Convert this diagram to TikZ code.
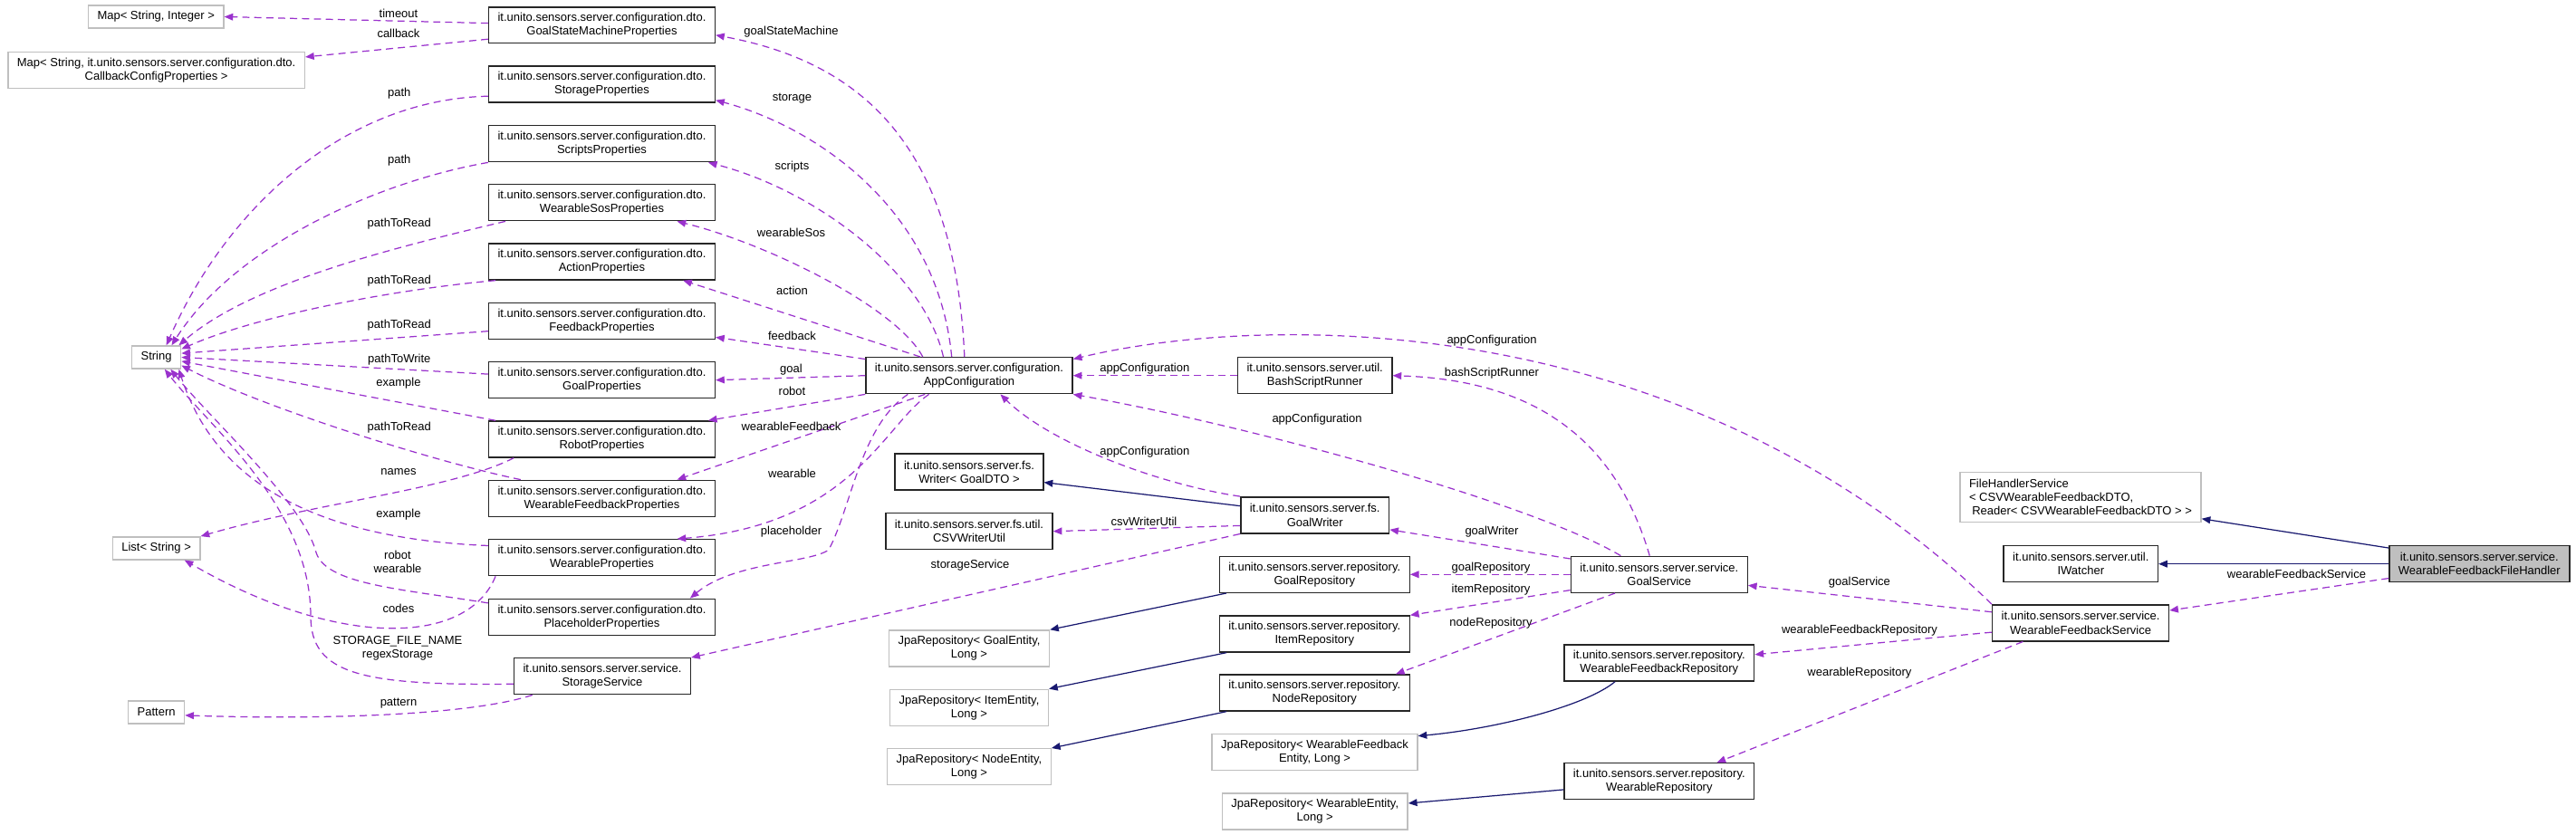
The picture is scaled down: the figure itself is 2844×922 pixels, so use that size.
\documentclass[tikz,border=0pt]{standalone}
\usepackage{fontspec}
\setmainfont{Liberation Sans}
\usepackage{xcolor}
\usepackage{tikz}
\usetikzlibrary{arrows.meta}
\definecolor{inhblue}{HTML}{191970}
\definecolor{usepurple}{HTML}{9A32CD}
\definecolor{extgray}{HTML}{BFBFBF}

\begin{document}
\begin{tikzpicture}[
  x=0.02cm, y=-0.02cm,
  every node/.style={font=\fontsize{7.4}{8.6}\selectfont},
  cls/.style={draw=black!85, line width=0.8pt, fill=white, align=center,
              inner xsep=0.2cm, minimum height=0.8cm},
  ext/.style={draw=extgray, line width=0.8pt, fill=white, align=center,
              inner xsep=0.2cm, minimum height=0.5cm},
  focus/.style={cls, fill=extgray},
  lbl/.style={inner sep=0pt, align=center},
  inh/.style={-{Triangle[length=5.5pt,width=4.4pt]}, draw=inhblue, line width=0.7pt},
  mem/.style={-{Triangle[length=5.5pt,width=4.4pt]}, draw=usepurple, line width=0.7pt,
              dash pattern=on 4.5pt off 3pt},
]
\path[use as bounding box, fill=white] (0,0) rectangle (2844,922);

% --- col 0: external types
\node[ext] (mapsi) at (172.2, 18.5) {Map< String, Integer >};
\node[ext, minimum height=0.8cm] (mapsc) at (172.6, 77.3) {Map< String, it.unito.sensors.server.configuration.dto.\\CallbackConfigProperties >};
\node[ext] (str) at (172.6,394.5) {String};
\node[ext] (lst) at (172.6,605.3) {List< String >};
\node[ext] (pat) at (172.6,786.5) {Pattern};

% --- col 1: dto properties
\node[cls] (gsm)  at (664.5, 27.8) {it.unito.sensors.server.configuration.dto.\\GoalStateMachineProperties};
\node[cls] (sto)  at (664.5, 93.0) {it.unito.sensors.server.configuration.dto.\\StorageProperties};
\node[cls] (scr)  at (664.5,158.7) {it.unito.sensors.server.configuration.dto.\\ScriptsProperties};
\node[cls] (sos)  at (664.5,223.7) {it.unito.sensors.server.configuration.dto.\\WearableSosProperties};
\node[cls] (act)  at (664.5,289.0) {it.unito.sensors.server.configuration.dto.\\ActionProperties};
\node[cls] (fbk)  at (664.5,354.7) {it.unito.sensors.server.configuration.dto.\\FeedbackProperties};
\node[cls] (gol)  at (664.5,419.7) {it.unito.sensors.server.configuration.dto.\\GoalProperties};
\node[cls] (rob)  at (664.5,485.0) {it.unito.sensors.server.configuration.dto.\\RobotProperties};
\node[cls] (wfb)  at (664.5,550.3) {it.unito.sensors.server.configuration.dto.\\WearableFeedbackProperties};
\node[cls] (wea)  at (664.5,615.7) {it.unito.sensors.server.configuration.dto.\\WearableProperties};
\node[cls] (plh)  at (664.5,681.3) {it.unito.sensors.server.configuration.dto.\\PlaceholderProperties};
\node[cls] (stsv) at (665.0,746.7) {it.unito.sensors.server.service.\\StorageService};

% --- col 2: configuration, fs, jpa
\node[cls] (app) at (1070,414.7) {it.unito.sensors.server.configuration.\\AppConfiguration};
\node[cls] (wrt) at (1070,521.0) {it.unito.sensors.server.fs.\\Writer< GoalDTO >};
\node[cls] (csv) at (1070,586.7) {it.unito.sensors.server.fs.util.\\CSVWriterUtil};
\node[ext, minimum height=0.8cm] (jge) at (1070,716.0) {JpaRepository< GoalEntity,\\Long >};
\node[ext, minimum height=0.8cm] (jie) at (1070,781.3) {JpaRepository< ItemEntity,\\Long >};
\node[ext, minimum height=0.8cm] (jne) at (1070,846.7) {JpaRepository< NodeEntity,\\Long >};

% --- col 3: util, writer, repositories
\node[cls] (bsh) at (1451.7,414.7) {it.unito.sensors.server.util.\\BashScriptRunner};
\node[cls] (gwr) at (1451.7,568.8) {it.unito.sensors.server.fs.\\GoalWriter};
\node[cls] (grp) at (1451.3,634.3) {it.unito.sensors.server.repository.\\GoalRepository};
\node[cls] (irp) at (1451.3,700.0) {it.unito.sensors.server.repository.\\ItemRepository};
\node[cls] (nrp) at (1451.3,765.0) {it.unito.sensors.server.repository.\\NodeRepository};
\node[ext, minimum height=0.8cm] (jwf) at (1451.5,830.7) {JpaRepository< WearableFeedback\\Entity, Long >};
\node[ext, minimum height=0.8cm] (jwe) at (1451.7,896.0) {JpaRepository< WearableEntity,\\Long >};

% --- col 4: services, repositories
\node[cls] (gsv) at (1831.8,634.3) {it.unito.sensors.server.service.\\GoalService};
\node[cls] (wfr) at (1831.8,732.0) {it.unito.sensors.server.repository.\\WearableFeedbackRepository};
\node[cls] (wrp) at (1831.8,862.7) {it.unito.sensors.server.repository.\\WearableRepository};

% --- col 5
\node[ext, align=left, minimum height=1.1cm] (fhs) at (2297,549.2) {FileHandlerService\\< CSVWearableFeedbackDTO,\\\hspace{0.25em}Reader< CSVWearableFeedbackDTO > >};
\node[cls] (iwt) at (2297.3,622.7) {it.unito.sensors.server.util.\\IWatcher};
\node[cls] (wfs) at (2297.1,687.8) {it.unito.sensors.server.service.\\WearableFeedbackService};

% --- col 6: the class itself
\node[focus] (wfh) at (2737.3,622.7) {it.unito.sensors.server.service.\\WearableFeedbackFileHandler};

% --- col 6 -> col 5
\draw[inh] (wfh.170) -- (fhs.-10);
\draw[inh] (wfh.west) -- (iwt.east);
\draw[mem] (wfh.189) -- (wfs.8);
\node[lbl] (l-wfsvc) at (2535.5,634.3) {wearableFeedbackService};

% --- col 5 -> col 4
\draw[mem] (wfs.173) -- (gsv.-7);
\draw[mem] (wfs.186) -- (wfr.5);
\draw[mem] (wfs.198) -- (wrp.18);
\draw[mem] (wfs.north west) .. controls (1860,340) and (1400,345) .. (app.9);
\node[lbl] (l-gsvc)  at (2052.9,642.7) {goalService};
\node[lbl] (l-wfrep) at (2053.0,695.7) {wearableFeedbackRepository};
\node[lbl] (l-wrep)  at (2052.9,742.7) {wearableRepository};
\node[lbl] (l-app1)  at (1647.0,376.0) {appConfiguration};

% --- col 4 -> col 3
\draw[mem] (gsv.west) -- (grp.east);
\draw[mem] (gsv.190) -- (irp.north east);
\draw[mem] (gsv.203) -- (nrp.13);
\draw[mem] (gsv.170) -- (gwr.-11);
\draw[mem] (gsv.117) .. controls (1785,490) and (1700,420) .. (bsh.east);
\draw[mem] (gsv.154) .. controls (1690,555) and (1380,470) .. (app.south east);
\draw[inh] (wfr.203) .. controls (1750,780) and (1650,805) .. (jwf.9);
\draw[inh] (wrp.185) -- (jwe.5);
\node[lbl] (l-grep) at (1646,626.7) {goalRepository};
\node[lbl] (l-irep) at (1646,650.7) {itemRepository};
\node[lbl] (l-nrep) at (1646,687.7) {nodeRepository};
\node[lbl] (l-gwr)  at (1647,586.7) {goalWriter};
\node[lbl] (l-bsh)  at (1647,411.7) {bashScriptRunner};
\node[lbl] (l-app2) at (1454,462.7) {appConfiguration};

% --- col 3 -> col 2
\draw[mem] (bsh.west) -- (app.east);
\draw[inh] (gwr.173) -- (wrt.-8);
\draw[mem] (gwr.188) -- (csv.east);
\draw[mem] (gwr.north west) .. controls (1280,535) and (1160,490) .. (app.-31);
\draw[mem] (gwr.south west) -- (stsv.north east);
\draw[inh] (grp.192) -- (jge.north east);
\draw[inh] (irp.192) -- (jie.north east);
\draw[inh] (nrp.192) -- (jne.north east);
\node[lbl] (l-app3) at (1263.8,406.7) {appConfiguration};
\node[lbl] (l-app4) at (1263.8,498.7) {appConfiguration};
\node[lbl] (l-csv)  at (1263.0,576.0) {csvWriterUtil};
\node[lbl] (l-stor) at (1071.0,624.3) {storageService};

% --- col 2 -> col 1
\draw[mem] (app.104) .. controls (1055,170) and (960,70) .. (gsm.-5);
\draw[mem] (app.133) .. controls (1035,230) and (900,140) .. (sto.-8);
\draw[mem] (app.144) .. controls (1020,300) and (900,210) .. (scr.-10);
\draw[mem] (app.158) .. controls (990,340) and (850,270) .. (sos.-14);
\draw[mem] (app.159) -- (act.-13);
\draw[mem] (app.171) -- (fbk.-8);
\draw[mem] (app.west) -- (gol.east);
\draw[mem] (app.south west) -- (rob.10);
\draw[mem] (app.203) -- (wfb.14);
\draw[mem] (app.205) .. controls (975,470) and (940,580) .. (wea.14);
\draw[mem] (app.197) .. controls (950,470) and (940,560) .. (915,607)
                     .. controls (895,622) and (810,620) .. (plh.12);
\node[lbl] (l-gsm)  at (873.5, 35.0) {goalStateMachine};
\node[lbl] (l-sto)  at (874.5,108.3) {storage};
\node[lbl] (l-scr)  at (874.5,184.3) {scripts};
\node[lbl] (l-sos)  at (873.5,256.7) {wearableSos};
\node[lbl] (l-act)  at (874.5,320.7) {action};
\node[lbl] (l-fbk)  at (874.5,370.7) {feedback};
\node[lbl] (l-gol)  at (873.5,408.3) {goal};
\node[lbl] (l-rob)  at (874.5,431.7) {robot};
\node[lbl] (l-wfb)  at (873.5,470.7) {wearableFeedback};
\node[lbl] (l-wea)  at (874.5,522.7) {wearable};
\node[lbl] (l-plh)  at (873.5,587.3) {placeholder};

% --- col 1 -> col 0
\draw[mem] (gsm.179) -- (mapsi.east);
\draw[mem] (gsm.187) -- (mapsc.5);
\draw[mem] (sto.186) .. controls (380,110) and (250,230) .. (str.50);
\draw[mem] (scr.south west) .. controls (420,200) and (260,270) .. (str.38);
\draw[mem] (sos.191) .. controls (450,270) and (280,310) .. (str.28);
\draw[mem] (act.190) .. controls (430,320) and (280,350) .. (str.18);
\draw[mem] (fbk.185) -- (str.9);
\draw[mem] (gol.177) -- (str.0);
\draw[mem] (rob.170) -- (str.-9);
\draw[mem] (wfb.167) .. controls (480,510) and (290,450) .. (str.-18);
\draw[mem] (wea.174) .. controls (360,595) and (240,540) .. (str.-28);
\draw[mem] (plh.173) .. controls (440,650) and (360,645) .. (349,610)
                     .. controls (335,555) and (230,460) .. (str.-40);
\draw[mem] (stsv.185) .. controls (400,757) and (343,745) .. (343,680)
                      .. controls (343,560) and (230,470) .. (str.-55);
\draw[mem] (rob.192) .. controls (500,540) and (350,555) .. (lst.north east);
\draw[mem] (wea.190) .. controls (515,715) and (370,715) .. (lst.-23);
\draw[mem] (stsv.195) .. controls (520,790) and (350,795) .. (pat.-6);
\node[lbl] (l-tout)  at (440.0, 15.0) {timeout};
\node[lbl] (l-cb)    at (440.0, 36.7) {callback};
\node[lbl] (l-path1) at (440.8,102.7) {path};
\node[lbl] (l-path2) at (440.8,176.7) {path};
\node[lbl] (l-ptr1)  at (440.8,247.3) {pathToRead};
\node[lbl] (l-ptr2)  at (440.8,310.5) {pathToRead};
\node[lbl] (l-ptr3)  at (440.8,359.3) {pathToRead};
\node[lbl] (l-ptw)   at (440.8,396.7) {pathToWrite};
\node[lbl] (l-ex1)   at (440.0,423.3) {example};
\node[lbl] (l-ptr4)  at (440.8,471.7) {pathToRead};
\node[lbl] (l-names) at (440.0,520.7) {names};
\node[lbl] (l-ex2)   at (440.0,568.3) {example};
\node[lbl] (l-robw)  at (439.0,620.0) {robot\\wearable};
\node[lbl] (l-codes) at (440.0,671.7) {codes};
\node[lbl] (l-sfn)   at (439.0,716.0) {STORAGE\_FILE\_NAME\\regexStorage};
\node[lbl] (l-pat)   at (440.0,776.7) {pattern};
\end{tikzpicture}
\end{document}
